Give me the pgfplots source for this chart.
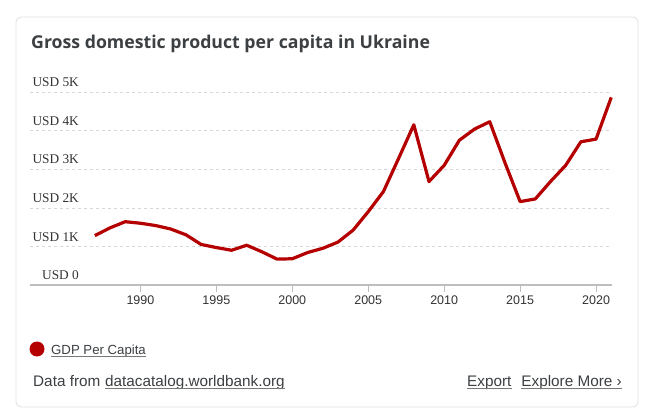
\documentclass[border=0pt]{standalone}
\usepackage{fontspec}
\setmainfont{Liberation Sans}
\newfontfamily\tserif{Liberation Serif}
\newfontfamily\titlefont{Open Sans}
\usepackage{pgfplots}
\pgfplotsset{compat=1.18}
\definecolor{gdpred}{RGB}{180,0,0}
\definecolor{txt}{RGB}{60,64,67}
\definecolor{gridc}{RGB}{215,215,215}
\definecolor{axc}{RGB}{190,190,190}
\definecolor{ulc}{RGB}{120,120,120}
\begin{document}
\begin{tikzpicture}
\begin{scope}[x=1pt,y=1pt]
\useasboundingbox (0,0) rectangle (650,415);
\fill[white] (0,0) rectangle (650,415);
\draw[draw=black!12, line width=0.8pt, rounded corners=5pt] (16,8) rectangle (638,398);
\node[anchor=base west, inner sep=0, font=\titlefont\bfseries\fontsize{17.7}{20}\selectfont, text=txt] at (31,366) {Gross domestic product per capita in Ukraine};
\end{scope}
\begin{axis}[at={(30pt,130pt)}, anchor=south west, scale only axis,
  width=582pt, height=193pt,
  xmin=1982.73, xmax=2021.05, ymin=0, ymax=5000,
  axis x line*=bottom, axis y line*=left,
  y axis line style={draw=none},
  x axis line style={draw=axc, line width=1.5pt},
  ytick={0,1000,...,5000},
  yticklabels={USD 0,USD 1K,USD 2K,USD 3K,USD 4K,USD 5K},
  ymajorgrids, grid style={dashed, gridc, line width=0.6pt},
  ytick style={draw=none},
  xtick={1990,1995,...,2020},
  xtick style={draw=axc, line width=0.8pt},
  major tick length=7pt, tick align=outside,
  xticklabel style={font=\fontsize{12.5}{14}\selectfont, text=black!80},
  yticklabel style={font=\tserif\fontsize{13.3}{15}\selectfont, text=black!80, anchor=south east, inner sep=0pt, xshift=56pt, yshift=5pt},
  /pgf/number format/assume math mode=true,
  /pgf/number format/1000 sep={}, scaled ticks=false,
  clip=false]
\addplot[gdpred, line width=3.2pt, line join=round] coordinates {
(1987,1280) (1988,1480) (1989,1640) (1990,1600) (1991,1540) (1992,1450)
(1993,1300) (1994,1050) (1995,970) (1996,900) (1997,1030) (1998,860)
(1999,670) (2000,680) (2001,840) (2002,950) (2003,1110) (2004,1420)
(2005,1900) (2006,2420) (2007,3280) (2008,4150) (2009,2680) (2010,3100)
(2011,3750) (2012,4040) (2013,4230) (2014,3170) (2015,2160) (2016,2230)
(2017,2680) (2018,3100) (2019,3710) (2020,3780) (2021,4860)};
\end{axis}
\begin{scope}[x=1pt,y=1pt]
% legend
\fill[gdpred] (37,66) circle (7.5);
\node[anchor=base west, inner sep=0, font=\fontsize{13.2}{15}\selectfont, text=txt] (lg) at (51,61) {GDP Per Capita};
\draw[ulc, line width=0.7pt] ([yshift=-2.5pt]lg.base west) -- ([yshift=-2.5pt]lg.base east);
% footer
\node[anchor=base west, inner sep=0, font=\fontsize{15.3}{17}\selectfont, text=txt] (f1) at (33,29) {Data from};
\node[anchor=base west, inner sep=0, font=\fontsize{15.3}{17}\selectfont, text=txt] (f2) at (105,29) {datacatalog.worldbank.org};
\draw[ulc, line width=0.7pt] ([yshift=-2.5pt]f2.base west) -- ([yshift=-2.5pt]f2.base east);
\node[anchor=base west, inner sep=0, font=\fontsize{15.3}{17}\selectfont, text=txt] (e1) at (467,29) {Export};
\draw[ulc, line width=0.7pt] ([yshift=-2.5pt]e1.base west) -- ([yshift=-2.5pt]e1.base east);
\node[anchor=base east, inner sep=0, font=\fontsize{15.3}{17}\selectfont, text=txt] (e2) at (622,29) {Explore More ›};
\draw[ulc, line width=0.7pt] ([yshift=-2.5pt]e2.base west) -- ([yshift=-2.5pt]e2.base east);
\end{scope}
\end{tikzpicture}
\end{document}
